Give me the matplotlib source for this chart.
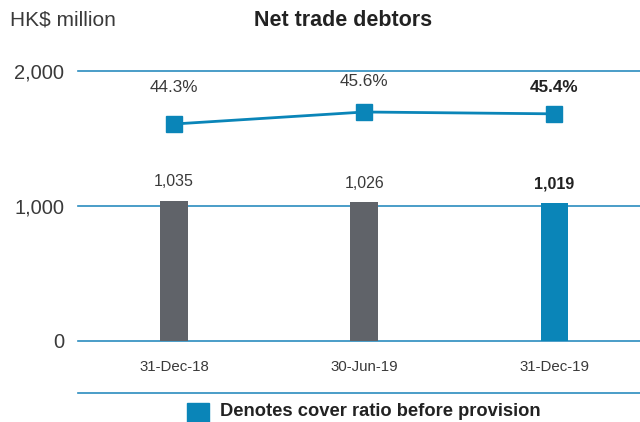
import matplotlib.pyplot as plt

plt.rcParams['font.family'] = ['Liberation Sans', 'DejaVu Sans']

dates = ['31-Dec-18', '30-Jun-19', '31-Dec-19']
debtors = [1035, 1026, 1019]
debtor_labels = ['1,035', '1,026', '1,019']
cover_ratio = [44.3, 45.6, 45.4]
ratio_labels = ['44.3%', '45.6%', '45.4%']
yticks = [0, 1000, 2000]
ytick_labels = ['0', '1,000', '2,000']

GREY = '#606369'
BLUE = '#0a85b8'
LINE = '#2b8cbf'
TEXT = '#3a3a3a'

W, H = 640, 422
fig = plt.figure(figsize=(W / 100, H / 100), dpi=100)
ax = fig.add_axes([78 / W, 81 / H, 562 / W, 270 / H])

x = list(range(len(dates)))
colors = [GREY, GREY, BLUE]
ax.bar(x, debtors, width=0.145, color=colors, zorder=3)
ax.set_xlim(-0.505, 2.45)
ax.set_ylim(0, 2000)

for y in yticks:
    ax.axhline(y, color=LINE, lw=1.2, zorder=2, clip_on=False)
ax.set_yticks(yticks)
ax.set_yticklabels(ytick_labels, fontsize=14.5, color=TEXT)
ax.tick_params(axis='y', length=0, pad=10)
ax.set_xticks(x)
ax.set_xticklabels(dates, fontsize=10.8, color=TEXT)
ax.tick_params(axis='x', length=0, pad=14)
for s in ax.spines.values():
    s.set_visible(False)

# bar value labels
for i, (v, lab) in enumerate(zip(debtors, debtor_labels)):
    bold = i == len(debtors) - 1
    ax.annotate(lab, (i, v), xytext=(0, 14), textcoords='offset points',
                ha='center', va='center', fontsize=11.5,
                color='#222222' if bold else TEXT,
                fontweight='bold' if bold else 'normal')

# cover ratio line on a second scale
ax2 = ax.twinx()
ax2.set_ylim(20.8, 50.04)
ax2.plot(x, cover_ratio, color=BLUE, lw=2, marker='s', markersize=11.5,
         zorder=4)
ax2.axis('off')
pct_offsets = [26, 22, 19]
for i, (v, lab) in enumerate(zip(cover_ratio, ratio_labels)):
    bold = i == len(cover_ratio) - 1
    ax2.annotate(lab, (i, v), xytext=(0, pct_offsets[i]),
                 textcoords='offset points', ha='center', va='center',
                 fontsize=12.3, color='#222222' if bold else TEXT,
                 fontweight='bold' if bold else 'normal')

# bottom separator line
fig.add_artist(plt.Line2D([78 / W, 1], [1 - 393 / H, 1 - 393 / H],
                          color=LINE, lw=1.2))

# titles
fig.text(10 / W, 1 - 20 / H, 'HK$ million', fontsize=15, color=TEXT,
         ha='left', va='center')
fig.text(343 / W, 1 - 20 / H, 'Net trade debtors', fontsize=15.5,
         fontweight='bold', color='#222222', ha='center', va='center')

# legend
fig.patches.append(plt.Rectangle((187 / W, 1 - 422 / H), 22 / W, 19 / H,
                                 color=BLUE, transform=fig.transFigure,
                                 figure=fig))
fig.text(220 / W, 1 - 412 / H, 'Denotes cover ratio before provision',
         fontsize=13.2, fontweight='bold', color='#222222', ha='left',
         va='center')

fig.savefig('out.png', dpi=100)
